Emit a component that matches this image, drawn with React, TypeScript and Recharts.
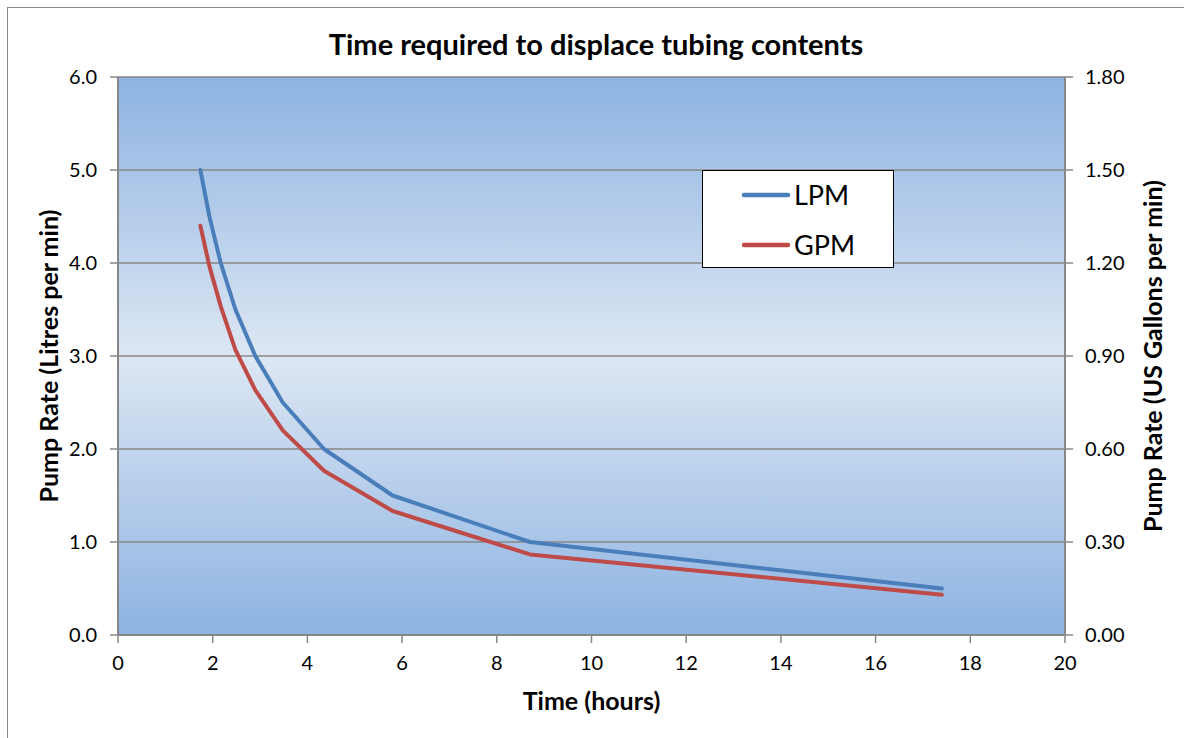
import React from "react";
import {
  LineChart,
  Line,
  XAxis,
  YAxis,
  CartesianGrid,
  Legend,
} from "recharts";

// Displacement time vs pump rate (same tubing volume, two units)
const hours = [1.74, 1.93, 2.17, 2.48, 2.9, 3.48, 4.35, 5.8, 8.7, 17.4];
const litresPerMin = [5.0, 4.5, 4.0, 3.5, 3.0, 2.5, 2.0, 1.5, 1.0, 0.5];
const gallonsPerMin = [1.32, 1.19, 1.06, 0.92, 0.79, 0.66, 0.53, 0.4, 0.26, 0.13];

const timeTicks = [0, 2, 4, 6, 8, 10, 12, 14, 16, 18, 20];
const lpmTicks = [0, 1, 2, 3, 4, 5, 6];
const gpmTicks = [0, 0.3, 0.6, 0.9, 1.2, 1.5, 1.8];
const legendOrder = ["LPM", "GPM"];

const chartData = hours.map((t, i) => ({
  t,
  lpm: litresPerMin[i],
  gpm: gallonsPerMin[i],
}));

const FONT = "Lato, 'Open Sans', sans-serif";
const AXIS_GREY = "#878787";
const tickStyle = { fill: "#000", fontSize: 20, fontFamily: FONT };

// rotated axis title placed at a fixed offset inside the axis box
function sideTitle(text: string, offsetX: number) {
  return (props: any) => {
    const { x, y, height } = props.viewBox;
    const px = x + offsetX;
    const py = y + height / 2;
    return (
      <text
        x={px}
        y={py}
        transform={`rotate(-90 ${px} ${py})`}
        textAnchor="middle"
        dominantBaseline="central"
        fontFamily={FONT}
        fontWeight={700}
        fontSize={25}
        fill="#000"
      >
        {text}
      </text>
    );
  };
}

function bottomTitle(text: string, offsetY: number) {
  return (props: any) => {
    const { x, y, width } = props.viewBox;
    return (
      <text
        x={x + width / 2}
        y={y + offsetY}
        textAnchor="middle"
        dominantBaseline="central"
        fontFamily={FONT}
        fontWeight={700}
        fontSize={25}
        fill="#000"
      >
        {text}
      </text>
    );
  };
}

function LegendBox(props: any) {
  const items = [...(props.payload || [])].sort(
    (a: any, b: any) => legendOrder.indexOf(a.value) - legendOrder.indexOf(b.value)
  );
  return (
    <div
      style={{
        position: "relative",
        width: 192,
        height: 98,
        boxSizing: "border-box",
        border: "1.5px solid #000",
        background: "#fff",
      }}
    >
      {items.map((item: any, i: number) => (
        <div
          key={item.value}
          style={{
            position: "absolute",
            left: 38,
            top: 24 + i * 50 - 16,
            height: 32,
            display: "flex",
            alignItems: "center",
          }}
        >
          <svg width={50} height={10}>
            <line
              x1={3}
              y1={5}
              x2={47}
              y2={5}
              stroke={item.color}
              strokeWidth={4.5}
              strokeLinecap="round"
            />
          </svg>
          <span
            style={{
              marginLeft: 3,
              fontFamily: FONT,
              fontSize: 27,
              color: "#000",
              lineHeight: "32px",
            }}
          >
            {item.value}
          </span>
        </div>
      ))}
    </div>
  );
}

export default function App() {
  return (
    <div
      style={{
        position: "absolute",
        left: 0,
        top: 0,
        width: 1184,
        height: 738,
        overflow: "hidden",
        background: "#fff",
      }}
    >
      <div
        style={{
          position: "absolute",
          left: 7,
          top: 7,
          width: 1200,
          height: 800,
          border: `1px solid ${AXIS_GREY}`,
        }}
      />
      <div
        style={{
          position: "absolute",
          left: 0,
          top: 26,
          width: 1192,
          textAlign: "center",
          fontFamily: FONT,
          fontWeight: 700,
          fontSize: 29,
          lineHeight: "36px",
          color: "#000",
        }}
      >
        Time required to displace tubing contents
      </div>
      <div style={{ position: "absolute", left: 0, top: 0 }}>
        <LineChart
          width={1184}
          height={738}
          data={chartData}
          margin={{ top: 77, right: 0, bottom: 0, left: 0 }}
        >
          <defs>
            <linearGradient id="plotFill" x1="0" y1="0" x2="0" y2="1">
              <stop offset="0%" stopColor="#8db3e2" />
              <stop offset="50%" stopColor="#dde7f3" />
              <stop offset="100%" stopColor="#8db3e2" />
            </linearGradient>
          </defs>
          <CartesianGrid
            yAxisId="lpm"
            vertical={false}
            fill="url(#plotFill)"
            fillOpacity={1}
            stroke={AXIS_GREY}
            strokeWidth={1.5}
          />
          <XAxis
            type="number"
            dataKey="t"
            domain={[0, 20]}
            ticks={timeTicks}
            interval={0}
            height={103}
            tickSize={8}
            tickMargin={13}
            tick={tickStyle}
            axisLine={{ stroke: AXIS_GREY, strokeWidth: 2 }}
            tickLine={{ stroke: AXIS_GREY, strokeWidth: 1.5 }}
            label={{ content: bottomTitle("Time (hours)", 65) }}
          />
          <YAxis
            yAxisId="lpm"
            orientation="left"
            domain={[0, 6]}
            ticks={lpmTicks}
            interval={0}
            width={118}
            tickSize={8}
            tickMargin={13}
            tick={tickStyle}
            tickFormatter={(v: number) => v.toFixed(1)}
            axisLine={{ stroke: AXIS_GREY, strokeWidth: 2 }}
            tickLine={{ stroke: AXIS_GREY, strokeWidth: 1.5 }}
            label={{ content: sideTitle("Pump Rate (Litres per min)", 48) }}
          />
          <YAxis
            yAxisId="gpm"
            orientation="right"
            domain={[0, 1.8]}
            ticks={gpmTicks}
            interval={0}
            width={119}
            tickSize={8}
            tickMargin={12}
            tick={tickStyle}
            tickFormatter={(v: number) => v.toFixed(2)}
            axisLine={{ stroke: AXIS_GREY, strokeWidth: 2 }}
            tickLine={{ stroke: AXIS_GREY, strokeWidth: 1.5 }}
            label={{
              content: sideTitle("Pump Rate (US Gallons per min)", 87),
            }}
          />
          <Legend
            layout="vertical"
            align="center"
            verticalAlign="middle"
            content={<LegendBox />}
            wrapperStyle={{ position: "absolute", left: 702, top: 170, width: 192, height: 98 }}
          />
          <Line
            yAxisId="lpm"
            type="linear"
            dataKey="lpm"
            name="LPM"
            stroke="#4a7ebb"
            strokeWidth={4}
            strokeLinecap="round"
            strokeLinejoin="round"
            dot={false}
            activeDot={false}
            isAnimationActive={false}
          />
          <Line
            yAxisId="gpm"
            type="linear"
            dataKey="gpm"
            name="GPM"
            stroke="#be4b48"
            strokeWidth={4}
            strokeLinecap="round"
            strokeLinejoin="round"
            dot={false}
            activeDot={false}
            isAnimationActive={false}
          />
        </LineChart>
      </div>
    </div>
  );
}
